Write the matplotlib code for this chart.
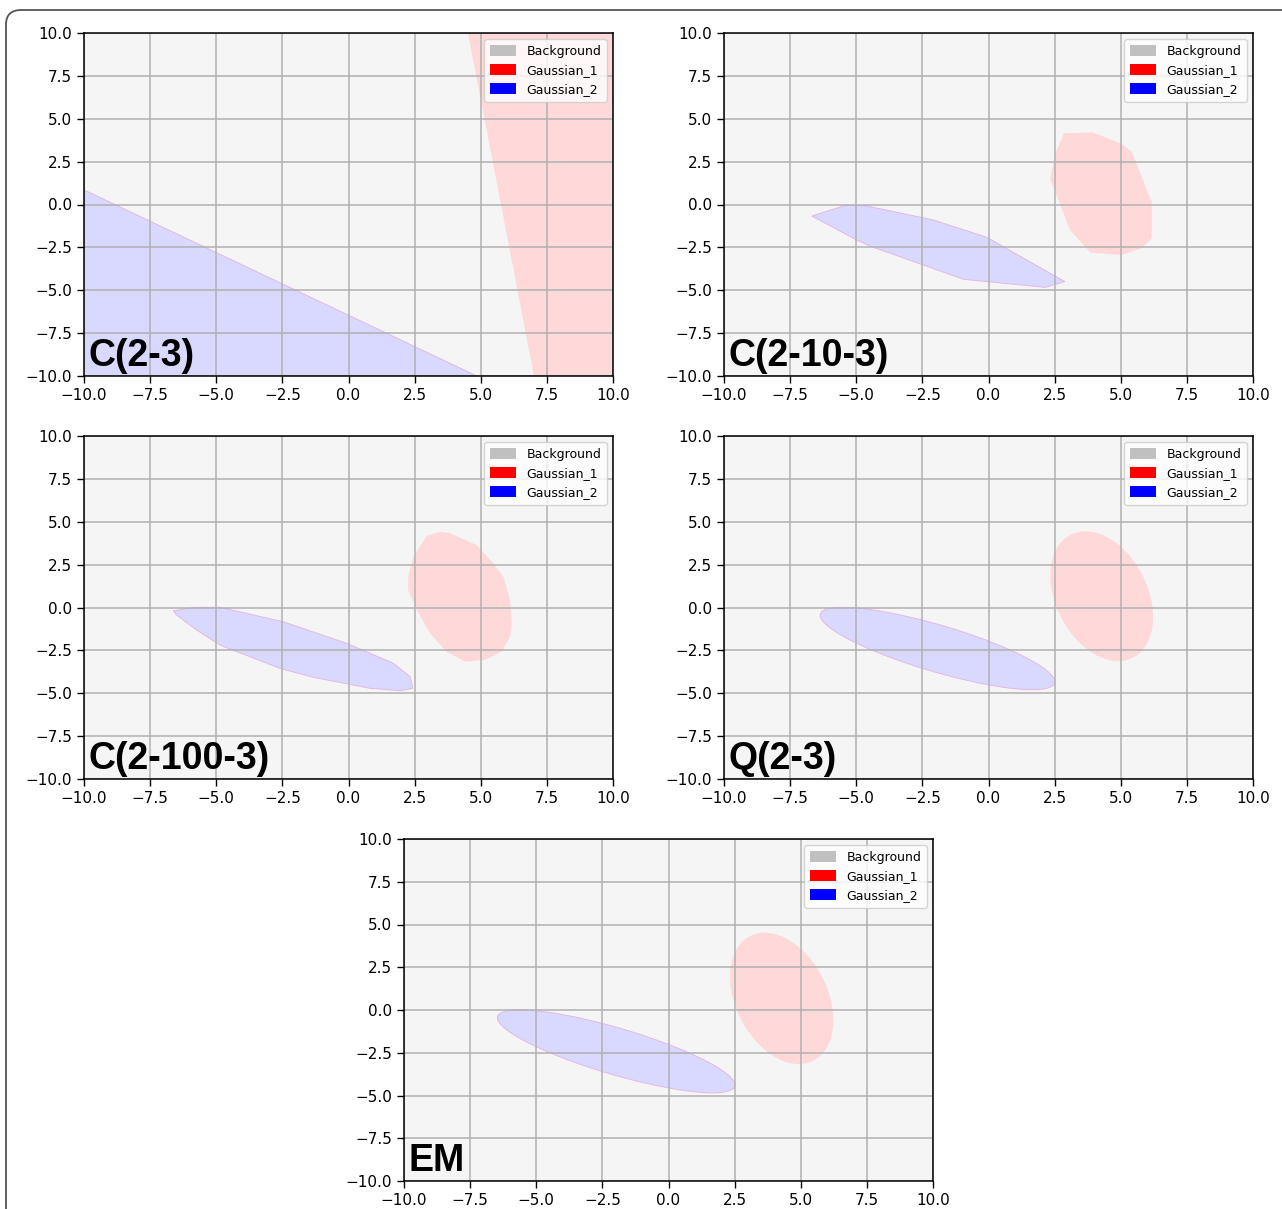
import matplotlib
matplotlib.use("Agg")
import matplotlib.pyplot as plt
from matplotlib.patches import Polygon, Ellipse, Patch, FancyBboxPatch

BG = "#f5f5f5"; RED = "#ffd9d9"; BLUE = "#d9d9ff"; EDGE = "#e2b8e6"; GRID = "#b0b0b0"

legend_labels = ["Background", "Gaussian_1", "Gaussian_2"]
legend_colors = ["#c0c0c0", "red", "blue"]
ticks = [-10.0, -7.5, -5.0, -2.5, 0.0, 2.5, 5.0, 7.5, 10.0]

# ---- decision regions -------------------------------------------------------
c23_red = [(4.5, 10), (10, 10), (10, -10), (7.0, -10)]
c23_blue = [(-10, 0.85), (4.85, -10), (-10, -10)]

c2103_red = [(2.85, 4.15), (3.94, 4.21), (5.04, 3.53), (5.41, 3.08), (6.17, 0.16),
             (6.17, -1.97), (5.79, -2.55), (5.04, -2.94), (3.86, -2.81), (3.08, -1.49),
             (2.60, 0.45), (2.33, 1.47), (2.51, 2.89)]
c2103_blue = [(-6.68, -0.67), (-5.36, -0.03), (-4.60, -0.09), (-2.09, -0.90), (-0.07, -1.91),
              (2.89, -4.50), (2.14, -4.83), (-0.95, -4.36), (-4.48, -2.42), (-4.98, -2.07)]

c21003_red = [(2.96, 4.17), (3.46, 4.42), (3.84, 4.33), (4.85, 3.64), (5.47, 2.58),
              (5.85, 1.80), (6.11, 0.44), (6.17, -0.92), (6.11, -1.70), (5.79, -2.58),
              (5.16, -3.06), (4.40, -3.16), (3.71, -2.58), (3.08, -1.50), (2.58, -0.15),
              (2.26, 1.02), (2.26, 1.80), (2.45, 2.96)]
c21003_blue = [(-6.62, -0.19), (-5.80, 0.01), (-4.86, 0.01), (-2.47, -0.83), (-0.07, -2.09),
               (1.69, -3.25), (2.33, -4.03), (2.43, -4.71), (1.95, -4.85), (0.81, -4.71),
               (-1.33, -4.07), (-2.59, -3.55), (-4.86, -2.19), (-5.74, -1.31), (-6.50, -0.44)]

# ellipses: centre x, centre y, width, height, angle (deg)
q_red = (4.28, 0.66, 7.70, 3.62, 102.0)
q_blue = (-1.93, -2.39, 9.75, 2.58, -25.5)
em_red = (4.28, 0.68, 7.82, 3.62, 102.2)
em_blue = (-1.98, -2.42, 9.87, 2.58, -25.5)

labels = ["C(2-3)", "C(2-10-3)", "C(2-100-3)", "Q(2-3)", "EM"]

W, H = 1282, 1209
fig = plt.figure(figsize=(W / 100, H / 100), dpi=100)
fig.patch.set_facecolor("white")

# outer rounded frame (runs off right/bottom edges)
fig.add_artist(FancyBboxPatch((6 / W, -0.05), 1.2, 1 - 10 / H + 0.05,
               boxstyle="round,pad=0,rounding_size=0.012", transform=fig.transFigure,
               facecolor="none", edgecolor="#555555", linewidth=1.3, clip_on=False))

# axes boxes in pixels: left, top, right, bottom
boxes = [(84, 33, 613, 376), (724, 33, 1253, 376), (84, 436, 613, 779),
         (724, 436, 1253, 779), (404, 839, 933, 1181)]


def make_ax(b):
    l, t, r, bt = b
    ax = fig.add_axes([l / W, 1 - bt / H, (r - l) / W, (bt - t) / H])
    ax.set_facecolor(BG)
    ax.set_xlim(-10, 10); ax.set_ylim(-10, 10)
    ax.set_xticks(ticks); ax.set_yticks(ticks)
    ax.set_xticklabels([f"{v:.1f}".replace("-", "\u2212") for v in ticks])
    ax.set_yticklabels([f"{v:.1f}".replace("-", "\u2212") for v in ticks])
    ax.tick_params(labelsize=11, length=5, width=1.0)
    ax.grid(True, color=GRID, linewidth=1.1)
    for s in ax.spines.values():
        s.set_linewidth(1.1)
    return ax


def poly(ax, pts, color, edge=None):
    ax.add_patch(Polygon(pts, closed=True, facecolor=color,
                         edgecolor=edge if edge else "none", linewidth=0.7, zorder=1))


def ell(ax, p, color, edge=None):
    ax.add_patch(Ellipse((p[0], p[1]), p[2], p[3], angle=p[4], facecolor=color,
                         edgecolor=edge if edge else "none", linewidth=0.7, zorder=1))


axes = [make_ax(b) for b in boxes]

poly(axes[0], c23_red, RED); poly(axes[0], c23_blue, BLUE, EDGE)
poly(axes[1], c2103_red, RED); poly(axes[1], c2103_blue, BLUE, EDGE)
poly(axes[2], c21003_red, RED); poly(axes[2], c21003_blue, BLUE, EDGE)
ell(axes[3], q_red, RED); ell(axes[3], q_blue, BLUE, EDGE)
ell(axes[4], em_red, RED); ell(axes[4], em_blue, BLUE, EDGE)

handles = [Patch(facecolor=c, edgecolor="none", label=l)
           for l, c in zip(legend_labels, legend_colors)]
for ax, lab in zip(axes, labels):
    ax.legend(handles=handles, loc="upper right", fontsize=9, handlelength=2.1,
              handleheight=1.0, labelspacing=0.48, borderpad=0.45)
    ax.text(0.008, 0.03, lab, transform=ax.transAxes, fontsize=27,
            fontweight="bold", family=["Liberation Sans", "DejaVu Sans"],
            ha="left", va="baseline", zorder=6)

plt.savefig("out.png", dpi=100, facecolor="white")
